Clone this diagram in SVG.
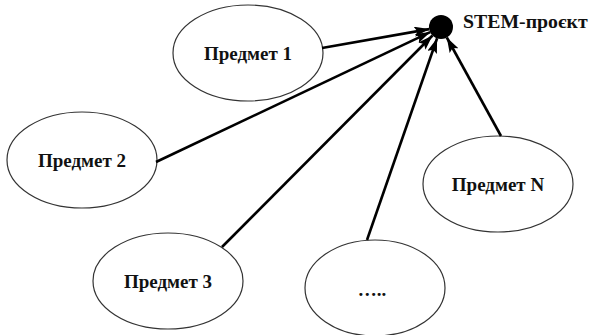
<svg xmlns="http://www.w3.org/2000/svg" width="595" height="335" viewBox="0 0 595 335">
<style>
.n ellipse{fill:#fff;stroke:#333;stroke-width:1.2}
.t{font-family:"Liberation Serif","Times New Roman",serif;font-weight:bold;font-size:19px;fill:#111;text-anchor:middle}
.c line{stroke:#000;stroke-width:2.6;marker-end:url(#ah)}
</style>
<defs>
<marker id="ah" markerUnits="userSpaceOnUse" markerWidth="16" markerHeight="12" refX="15" refY="5" orient="auto">
<path d="M0,0 L15,5 L0,10 L3,5 Z" fill="#000"/>
</marker>
</defs>
<rect width="595" height="335" fill="#fff"/>
<g id="p1" class="n"><ellipse cx="248" cy="53" rx="75" ry="48"/><text class="t" x="248" y="60">Предмет 1</text></g>
<g id="p2" class="n"><ellipse cx="82" cy="160" rx="75" ry="48"/><text class="t" x="82" y="167">Предмет 2</text></g>
<g id="p3" class="n"><ellipse cx="168" cy="281" rx="75" ry="48"/><text class="t" x="168" y="288">Предмет 3</text></g>
<g id="p4" class="n"><ellipse cx="375" cy="288" rx="70" ry="48"/><text class="t" x="372" y="296">…..</text></g>
<g id="pn" class="n"><ellipse cx="498" cy="184" rx="75" ry="48"/><text class="t" x="498" y="191">Предмет N</text></g>
<g id="stem"><circle cx="441" cy="27" r="12" fill="#000"/><text class="t" x="463" y="28" style="text-anchor:start;font-size:19.8px">STEM-проєкт</text></g>
<g id="connectors" class="c">
<line x1="322" y1="48" x2="429.2" y2="29.1"/>
<line x1="156" y1="162" x2="430.2" y2="32.1"/>
<line x1="222" y1="247" x2="432.5" y2="35.5"/>
<line x1="367" y1="240" x2="437.1" y2="38.3"/>
<line x1="501" y1="136" x2="446.8" y2="37.5"/>
</g>
</svg>
